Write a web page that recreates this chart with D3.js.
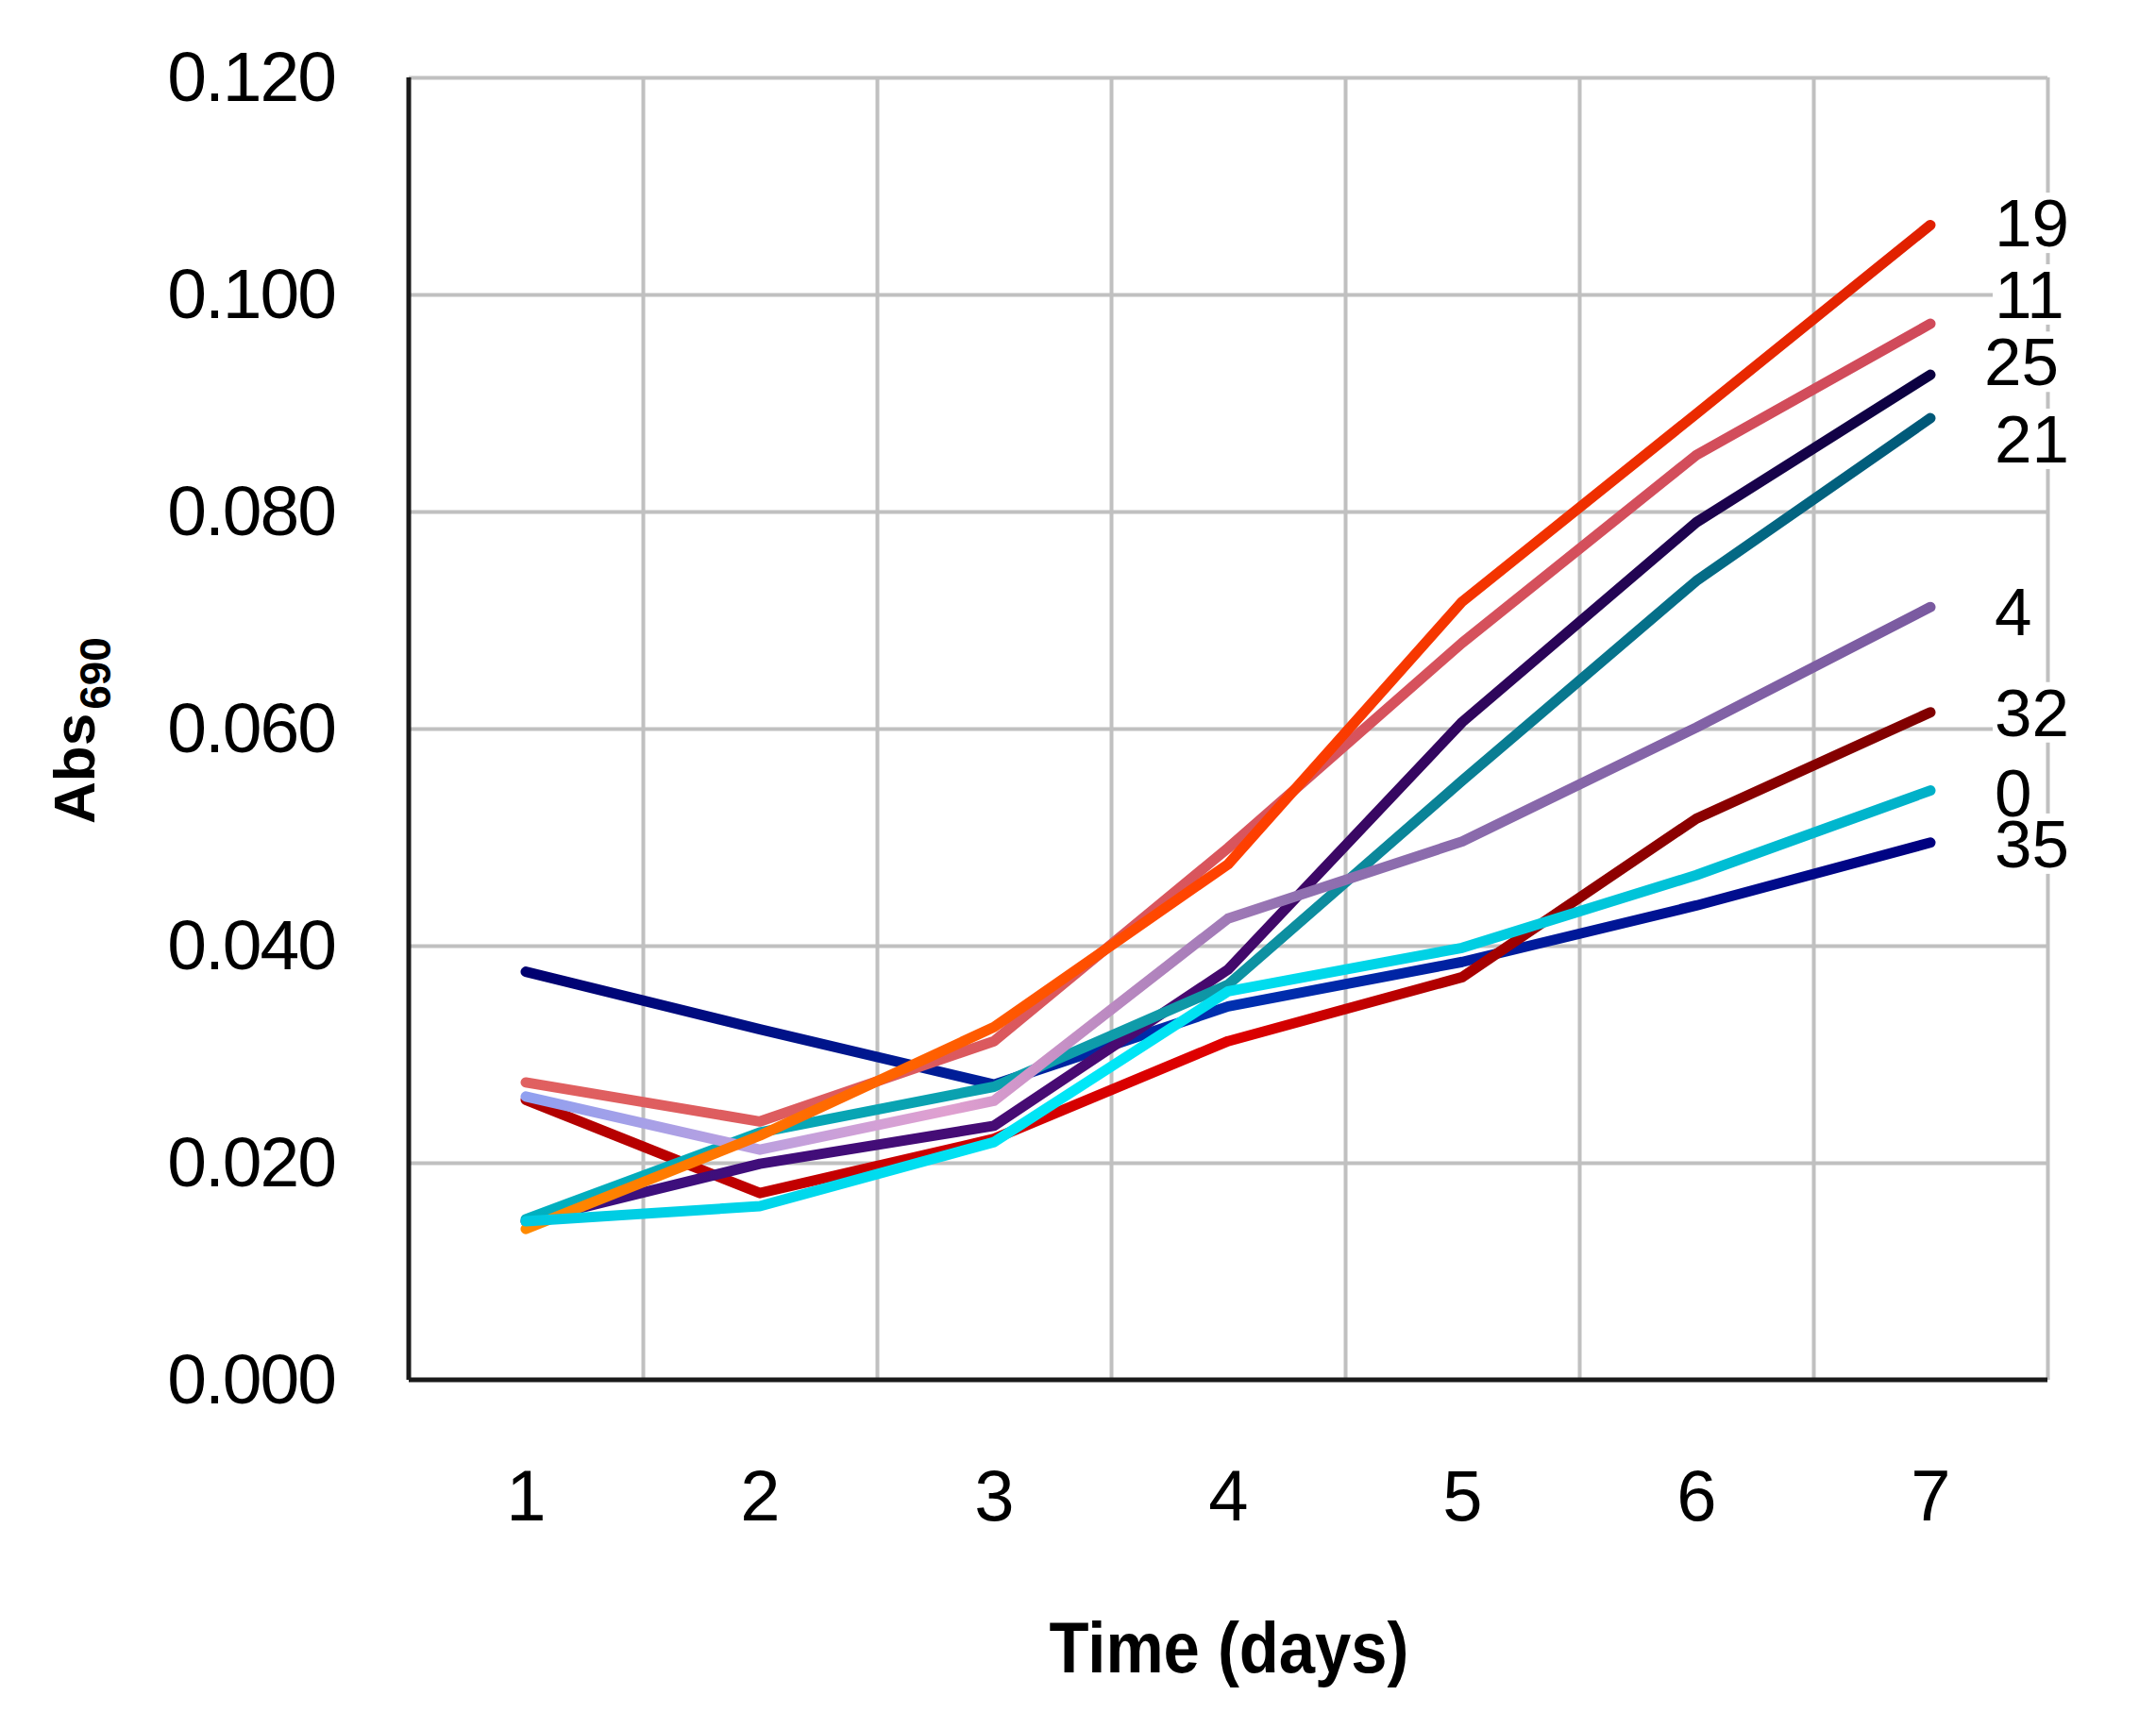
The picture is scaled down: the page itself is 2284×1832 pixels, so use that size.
<!DOCTYPE html>
<html>
<head>
<meta charset="utf-8">
<script src="https://cdn.jsdelivr.net/npm/d3@7"></script>
<style>
  html, body { margin: 0; padding: 0; background: #fff; }
  svg { display: block; }
  text { font-family: "Liberation Sans", Arial, sans-serif; fill: #000; }
</style>
</head>
<body>
<div id="chart"></div>
<script>
// ── Data ──
const days = [1, 2, 3, 4, 5, 6, 7];
const seriesNames = ['35', '32', '25', '21', '4', '11', '19', '0'];

const abs35 = [0.0376, 0.0323, 0.0272, 0.0344, 0.0385, 0.0437, 0.0495];
const abs32 = [0.0258, 0.0172, 0.0222, 0.0312, 0.0371, 0.0517, 0.0615];
const abs25 = [0.0146, 0.0199, 0.0234, 0.0378, 0.0606, 0.0790, 0.0926];
const abs21 = [0.0148, 0.0228, 0.0270, 0.0364, 0.0552, 0.0736, 0.0886];
const abs4  = [0.0261, 0.0212, 0.0257, 0.0425, 0.0496, 0.0601, 0.0712];
const abs11 = [0.0274, 0.0238, 0.0312, 0.0490, 0.0679, 0.0852, 0.0973];
const abs19 = [0.0139, 0.0225, 0.0325, 0.0475, 0.0717, 0.0890, 0.1064];
const abs0  = [0.0146, 0.0160, 0.0219, 0.0358, 0.0398, 0.0465, 0.0543];
const seriesValues = [abs35, abs32, abs25, abs21, abs4, abs11, abs19, abs0];

// end labels, in data units (where the label text is centred)
const labelAt = [0.0494, 0.0615, 0.0938, 0.0867, 0.0708, 0.1000, 0.1066, 0.0541];

const yTicks = [0, 0.02, 0.04, 0.06, 0.08, 0.10, 0.12];

// ── Styles: gradient stops per series (colour drifts along each line) ──
const seriesStops = {
  '35': [[0, '#000070'], [0.5, '#0030b0'], [1, '#000080']],
  '32': [[0, '#b00000'], [0.5, '#e00000'], [0.75, '#900000'], [1, '#800000']],
  '25': [[0, '#3a1080'], [0.45, '#4a0a70'], [1, '#0a0040']],
  '21': [[0, '#00b0c0'], [0.45, '#109aa8'], [1, '#005878']],
  '4':  [[0, '#90a0f0'], [0.3, '#e0a0d0'], [0.55, '#9070b0'], [1, '#7a5aa0']],
  '11': [[0, '#e06060'], [1, '#d04a5a']],
  '19': [[0, '#ff8a00'], [0.5, '#ff4000'], [1, '#e02000']],
  '0':  [[0, '#00c8e0'], [0.4, '#00e8f8'], [1, '#00b0c8']]
};

const W = 2284, H = 1832;
const m = { left: 433, right: 2169, top: 82, bottom: 1462 };

const svg = d3.select('#chart').append('svg')
  .attr('width', W).attr('height', H);

svg.append('rect').attr('width', W).attr('height', H).attr('fill', '#fff');

const x = d3.scaleLinear().domain([0.5, 7.5]).range([m.left, m.right]);
const y = d3.scaleLinear().domain([0, 0.12]).range([m.bottom, m.top]);

// ── Gridlines ──
const grid = svg.append('g').attr('class', 'grid');

grid.append('g')
  .attr('transform', 'translate(' + m.left + ',0)')
  .call(d3.axisLeft(y).tickValues(yTicks.slice(1)).tickSize(-(m.right - m.left)).tickFormat(''))
  .call(g => g.select('.domain').remove())
  .call(g => g.selectAll('line').attr('stroke', '#c0c0c0').attr('stroke-width', 4));

grid.append('g')
  .attr('transform', 'translate(0,' + m.bottom + ')')
  .call(d3.axisBottom(x).tickValues(days.map(d => d + 0.5)).tickSize(-(m.bottom - m.top)).tickFormat(''))
  .call(g => g.select('.domain').remove())
  .call(g => g.selectAll('line').attr('stroke', '#c0c0c0').attr('stroke-width', 4));

// ── Axis lines ──
svg.append('line')
  .attr('x1', m.left).attr('x2', m.left).attr('y1', m.top).attr('y2', m.bottom)
  .attr('stroke', '#1a1a1a').attr('stroke-width', 5);
svg.append('line')
  .attr('x1', m.left).attr('x2', m.right).attr('y1', m.bottom).attr('y2', m.bottom)
  .attr('stroke', '#1a1a1a').attr('stroke-width', 5);

// ── Tick labels ──
svg.append('g')
  .attr('transform', 'translate(' + m.left + ',0)')
  .call(d3.axisLeft(y).tickValues(yTicks).tickSize(0).tickPadding(78).tickFormat(d3.format('.3f')))
  .call(g => g.select('.domain').remove())
  .call(g => g.selectAll('text')
    .attr('font-size', 75).attr('letter-spacing', -2)
    .attr('font-family', '"Liberation Sans", Arial, sans-serif').attr('fill', '#000'));

svg.append('g')
  .attr('transform', 'translate(0,' + m.bottom + ')')
  .call(d3.axisBottom(x).tickValues(days).tickSize(0).tickPadding(95).tickFormat(d3.format('d')))
  .call(g => g.select('.domain').remove())
  .call(g => g.selectAll('text')
    .attr('font-size', 76)
    .attr('font-family', '"Liberation Sans", Arial, sans-serif').attr('fill', '#000'));

// ── Gradients ──
const defs = svg.append('defs');
seriesNames.forEach(function(name, i) {
  const grad = defs.append('linearGradient')
    .attr('id', 'grad-' + i)
    .attr('gradientUnits', 'userSpaceOnUse')
    .attr('x1', x(days[0])).attr('x2', x(days[days.length - 1]))
    .attr('y1', 0).attr('y2', 0);
  seriesStops[name].forEach(function(s) {
    grad.append('stop').attr('offset', s[0]).attr('stop-color', s[1]);
  });
});

// ── Lines ──
const line = d3.line()
  .x(function(d, i) { return x(days[i]); })
  .y(function(d) { return y(d); });

svg.append('g').selectAll('path').data(seriesValues).join('path')
  .attr('d', line)
  .attr('fill', 'none')
  .attr('stroke', function(d, i) { return 'url(#grad-' + i + ')'; })
  .attr('stroke-width', 11)
  .attr('stroke-linecap', 'round')
  .attr('stroke-linejoin', 'round');

// ── End labels (white boxes hide the grid behind them) ──
const labels = svg.append('g').attr('class', 'end-labels');
seriesNames.forEach(function(name, i) {
  const lx = x(7) + (name === '25' ? 57 : 68);
  const ly = y(labelAt[i]);
  const t = labels.append('text')
    .attr('x', lx).attr('y', ly).attr('dy', '0.35em')
    .attr('font-size', 71)
    .text(name);
  const bb = t.node().getBBox();
  labels.insert('rect', 'text')
    .attr('x', bb.x - 2).attr('y', ly - 32)
    .attr('width', bb.width + 4).attr('height', 64)
    .attr('fill', '#fff');
});

// ── Axis titles ──
svg.append('text')
  .attr('x', (m.left + m.right) / 2 + 1).attr('y', 1772)
  .attr('text-anchor', 'middle')
  .attr('font-size', 76).attr('font-weight', 'bold')
  .attr('textLength', 381).attr('lengthAdjust', 'spacingAndGlyphs')
  .text('Time (days)');

const yTitle = svg.append('text')
  .attr('transform', 'translate(100,873) rotate(-90)')
  .attr('font-weight', 'bold');
yTitle.append('tspan').attr('font-size', 62).text('Abs');
yTitle.append('tspan').attr('font-size', 46).attr('dy', 17).attr('dx', 4).text('690');
</script>
</body>
</html>
